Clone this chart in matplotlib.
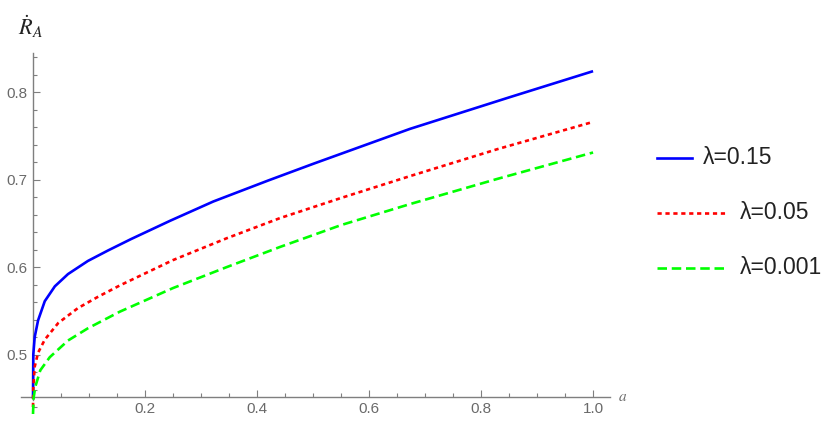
import numpy as np
import matplotlib
matplotlib.use("Agg")
import matplotlib.pyplot as plt
from matplotlib.ticker import MultipleLocator
from matplotlib.lines import Line2D

plt.rcParams['font.family'] = ['Liberation Sans', 'DejaVu Sans']
plt.rcParams['mathtext.fontset'] = 'stix'

# values
a_blue = [0.0, 0.0005, 0.003, 0.009, 0.021, 0.039, 0.0625, 0.098, 0.134, 0.175, 0.245,
          0.322, 0.42, 0.5, 0.673, 0.85, 1.0]
r_blue = [0.45, 0.500, 0.520, 0.539, 0.561, 0.578, 0.592, 0.607, 0.619, 0.632, 0.653,
          0.675, 0.699, 0.718, 0.758, 0.794, 0.824]

a_red = [0.0, 0.0005, 0.003, 0.009, 0.021, 0.045, 0.080, 0.116, 0.155, 0.25, 0.346,
         0.441, 0.55, 0.673, 0.83, 1.0]
r_red = [0.440, 0.462, 0.486, 0.502, 0.517, 0.536, 0.553, 0.566, 0.579, 0.608, 0.633,
         0.656, 0.679, 0.704, 0.735, 0.766]

a_green = [0.0, 0.001, 0.004, 0.013, 0.030, 0.0625, 0.098, 0.134, 0.155, 0.25, 0.346,
           0.441, 0.55, 0.673, 0.83, 1.0]
r_green = [0.432, 0.450, 0.463, 0.482, 0.497, 0.516, 0.530, 0.542, 0.549, 0.576, 0.600,
           0.623, 0.648, 0.672, 0.701, 0.731]

labels = ['λ=0.15', 'λ=0.05', 'λ=0.001']
colors = ['#0000ff', '#ff0000', '#00ff00']

axis_gray = '#7f7f7f'
text_gray = '#6a6a6a'

fig = plt.figure(figsize=(8.31, 4.29), dpi=100)
ax = fig.add_axes([0.0249, 0.0309, 0.709, 0.846])

lw = 1.9
ax.plot(a_blue, r_blue, color=colors[0], lw=lw, solid_capstyle='butt',
        solid_joinstyle='round', zorder=3)
ax.plot(a_red, r_red, color=colors[1], lw=lw, dashes=(1.6, 1.4), zorder=3)
ax.plot(a_green, r_green, color=colors[2], lw=lw, dashes=(3.6, 1.8), zorder=3)

ax.set_xlim(-0.022, 1.03)
ax.set_ylim(0.43, 0.845)

# Mathematica style axes crossing
for side in ['top', 'right']:
    ax.spines[side].set_visible(False)
ax.spines['left'].set_position(('data', 0))
ax.spines['bottom'].set_position(('data', 0.452))
ax.spines['left'].set_bounds(0.448, 0.845)
for side in ['left', 'bottom']:
    ax.spines[side].set_color(axis_gray)
    ax.spines[side].set_linewidth(1.0)

ax.xaxis.set_major_locator(MultipleLocator(0.2))
ax.xaxis.set_minor_locator(MultipleLocator(0.05))
ax.yaxis.set_major_locator(MultipleLocator(0.1))
ax.yaxis.set_minor_locator(MultipleLocator(0.02))
ax.set_xticks([0.2, 0.4, 0.6, 0.8, 1.0])
ax.set_xticklabels(['0.2', '0.4', '0.6', '0.8', '1.0'])
ax.set_yticks([0.5, 0.6, 0.7, 0.8])
ax.set_yticklabels(['0.5', '0.6', '0.7', '0.8'])
ax.tick_params(which='both', direction='in', colors=axis_gray, labelcolor=text_gray,
               labelsize=11, width=0.8)
ax.tick_params(which='major', length=5, pad=4)
ax.tick_params(which='minor', length=3)
ax.patch.set_alpha(0)

# axis labels
ax.text(1.045, 0.452, '$a$', color=text_gray, fontsize=11, va='center', ha='left',
        transform=ax.transData, clip_on=False)
fig.text(0.037, 0.938, r'$\dot{R}_A$', fontsize=16, ha='center', va='center', color='#222222')

# legend drawn outside on the right
leg_y = [1 - 158 / 429, 1 - 213 / 429, 1 - 268 / 429]
line_end = [692 / 831, 725 / 831, 725 / 831]
text_x = [703 / 831, 740 / 831, 740 / 831]
styles = [dict(), dict(dashes=(1.6, 1.4)), dict(dashes=(3.6, 1.8))]
for i in range(3):
    fig.add_artist(Line2D([657 / 831, line_end[i]], [leg_y[i], leg_y[i]], color=colors[i],
                          lw=lw, **styles[i]))
    fig.text(text_x[i], leg_y[i], labels[i], fontsize=16.5, va='center', ha='left', color='#222222')

fig.savefig('out.png', dpi=100)
